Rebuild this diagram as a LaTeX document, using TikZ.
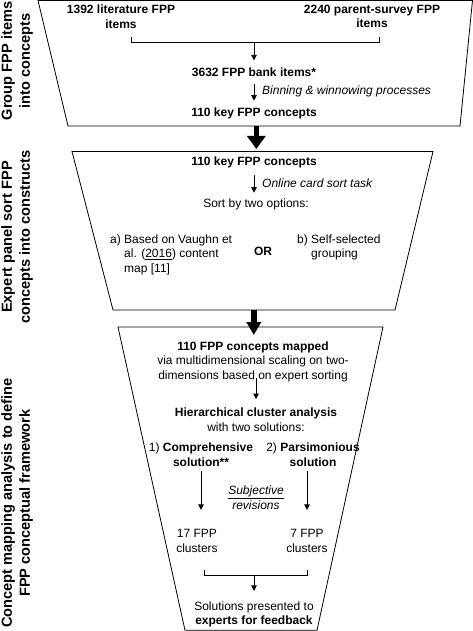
\documentclass[tikz,border=0pt]{standalone}
\usepackage{fontspec}
\setmainfont{Liberation Sans}
\usetikzlibrary{arrows.meta}
\begin{document}
\begin{tikzpicture}[x=1pt,y=-1pt,
  every node/.style={inner sep=0pt},
  txt/.style={font=\fontsize{12}{14.5}\selectfont, align=center},
  btxt/.style={font=\fontsize{12}{14.5}\selectfont\bfseries, align=center},
  itxt/.style={font=\fontsize{12}{14.5}\selectfont\itshape, align=center},
  side/.style={font=\fontsize{14.6}{18}\selectfont\bfseries, align=center, rotate=90},
  frame/.style={line width=0.8pt},
  arr/.style={line width=0.8pt, -{Triangle[length=5.5pt,width=5.5pt]}},
  bigarr/.style={line width=5.5pt, -{Triangle[length=13pt,width=#1]}},
]
\useasboundingbox (0,0) rectangle (473,631);

% frames
\coordinate (t1a) at (38,0.5);   \coordinate (t1b) at (472.5,0.5);
\coordinate (t1c) at (460,126);  \coordinate (t1d) at (68,126);
\draw[frame] (t1a) -- (t1b) -- (t1c) -- (t1d) -- cycle;
\coordinate (t2a) at (72,151.5); \coordinate (t2b) at (433,151.5);
\coordinate (t2c) at (395,310);  \coordinate (t2d) at (113,310);
\draw[frame] (t2a) -- (t2b) -- (t2c) -- (t2d) -- cycle;
\coordinate (t3a) at (118,327);  \coordinate (t3b) at (383,327);
\coordinate (t3c) at (317,630.3);\coordinate (t3d) at (185,630.3);
\draw[frame] (t3a) -- (t3b) -- (t3c) -- (t3d) -- cycle;

% big arrows
\coordinate (g1s) at (256.3,126); \coordinate (g1e) at (256.3,149);
\draw[bigarr=18pt] (g1s) -- (g1e);
\coordinate (g2s) at (253.8,310); \coordinate (g2e) at (253.8,335);
\draw[bigarr=14pt] (g2s) -- (g2e);

% side labels
\node[side] (s1) at (17,61) {Group FPP items\\into concepts};
\node[side] (s2) at (17,237) {Expert panel sort FPP\\concepts into constructs};
\node[side] (s3) at (17,503) {Concept mapping analysis to define\\FPP conceptual framework};

% stage 1
\node[btxt] (lit) at (121,16.5) {1392 literature FPP\\items};
\node[btxt] (par) at (372,16.5) {2240 parent-survey FPP\\items};
\coordinate (l1) at (131,37.5); \coordinate (l2) at (131,42);
\coordinate (r2) at (379,42);   \coordinate (r1) at (379,37.5);
\coordinate (m1) at (254,42);
\draw[frame] (l1) -- (l2) -- (r2) -- (r1);
\node[btxt] (bank) at (254,72) {3632 FPP bank items*};
\draw[arr, shorten >=7pt] (m1) -- (bank.north);
\node[btxt] (key1) at (254,113) {110 key FPP concepts};
\draw[arr, shorten <=7.5pt, shorten >=6.5pt] (bank.south) -- (key1.north);
\node[itxt, anchor=west] (bin) at (262,91) {Binning \& winnowing processes};

% stage 2
\node[btxt] (key2) at (254,162) {110 key FPP concepts};
\node[txt] (sort) at (256,204) {Sort by two options:};
\draw[arr, shorten <=7.5pt, shorten >=5.5pt] (key2.south) -- (key2.south |- sort.north);
\node[itxt, anchor=west] (online) at (262,183) {Online card sort task};
\node[txt, align=left, anchor=north west] (opta) at (110,234.5)
  {a) Based on Vaughn et\\\hphantom{a) }al. (\underline{2016}) content\\\hphantom{a) }map [11]};
\node[btxt] (or) at (263,251) {OR};
\node[txt, align=left, anchor=north west] (optb) at (297,234.5)
  {b) Self-selected\\\hphantom{b) }grouping};

% stage 3
\node[txt] (mapped) at (253,361.5)
  {\textbf{110 FPP concepts mapped}\\via multidimensional scaling on two-\\dimensions based on expert sorting};
\node[txt] (hier) at (256,419.5) {\textbf{Hierarchical cluster analysis}\\with two solutions:};
\draw[arr, shorten <=-4pt, shorten >=8.5pt] (hier.north |- mapped.south) -- (hier.north);
\node[txt] (comp) at (201,454.5) {1) \textbf{Comprehensive}\\\textbf{solution**}};
\node[txt] (pars) at (313,454.5) {2) \textbf{Parsimonious}\\\textbf{solution}};
\node[itxt] (subj) at (256,497.5) {\underline{Subjective}\\revisions};
\node[txt] (c17) at (197,541) {17 FPP\\clusters};
\node[txt] (c7) at (307,541) {7 FPP\\clusters};
\draw[arr, shorten <=4.5pt, shorten >=19.5pt] (comp.south) -- (comp.south |- c17.north);
\draw[arr, shorten <=4.5pt, shorten >=19.5pt] (c7.north |- pars.south) -- (c7.north);
\coordinate (b3l1) at (204,570); \coordinate (b3l2) at (204,575);
\coordinate (b3r2) at (307,575); \coordinate (b3r1) at (307,570);
\coordinate (m3) at (254,575);
\draw[frame] (b3l1) -- (b3l2) -- (b3r2) -- (b3r1);
\node[txt] (sol) at (254,614.5) {Solutions presented to\\\textbf{experts for feedback}};
\draw[arr, shorten >=10.5pt] (m3) -- (sol.north);
\end{tikzpicture}
\end{document}
